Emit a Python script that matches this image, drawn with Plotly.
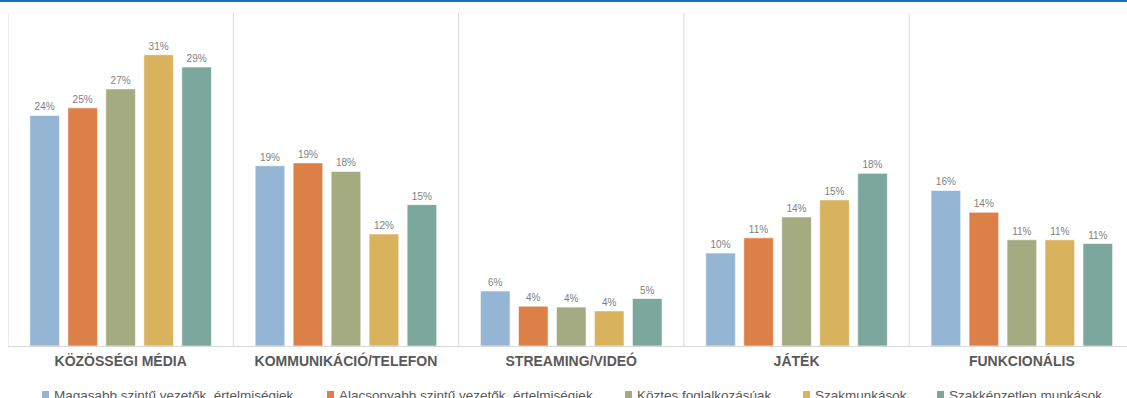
import plotly.graph_objects as go

# Survey shares (%) by activity type and occupational group
categories = ["KÖZÖSSÉGI MÉDIA", "KOMMUNIKÁCIÓ/TELEFON", "STREAMING/VIDEÓ", "JÁTÉK", "FUNKCIONÁLIS"]
series_names = [
    "Magasabb szintű vezetők, értelmiségiek",
    "Alacsonyabb szintű vezetők, értelmiségiek",
    "Köztes foglalkozásúak",
    "Szakmunkások",
    "Szakképzetlen munkások",
]
vezetok_felso = [24.3, 19.0, 5.8, 9.8, 16.4]
vezetok_also = [25.1, 19.3, 4.2, 11.4, 14.1]
koztes = [27.1, 18.4, 4.1, 13.6, 11.2]
szakmunkasok = [30.7, 11.8, 3.7, 15.4, 11.2]
szakkepzetlen = [29.4, 14.9, 5.0, 18.2, 10.8]

series_values = [vezetok_felso, vezetok_also, koztes, szakmunkasok, szakkepzetlen]
colors = ["#95B5D4", "#DD8047", "#A5AB81", "#D8B25C", "#7BA79D"]

W, H = 1127, 398
m_l, m_r, m_t, m_b = 8, 0, 13, 52
plot_w = W - m_l - m_r
plot_h = H - m_t - m_b


def px_x(px):
    return (px - m_l) / plot_w


def px_y(px):
    return (m_t + plot_h - px) / plot_h


FONT = "Liberation Sans, Arial"

fig = go.Figure()
for name, vals, col in zip(series_names, series_values, colors):
    fig.add_trace(go.Bar(
        x=categories, y=vals, name=name,
        marker=dict(color=col, line=dict(color="rgba(255,255,255,0.6)", width=1)),
        texttemplate="%{y:.0f}%", textposition="outside",
        textfont=dict(family=FONT, size=10, color="#7F7F7F"),
        cliponaxis=False, showlegend=False,
    ))

# vertical separators between activity groups
shapes = []
for i in range(len(categories)):
    shapes.append(dict(type="line", xref="x", yref="paper", x0=i - 0.5, x1=i - 0.5,
                       y0=0, y1=1, line=dict(color="#D9D9D9", width=1)))
# blue rule along the top edge
shapes.append(dict(type="line", xref="paper", yref="paper",
                   x0=px_x(0), x1=1.0, y0=px_y(1), y1=px_y(1),
                   line=dict(color="#1F6FC0", width=2)))

# legend row along the bottom: small square key + label
legend_key_left = [42, 327, 625, 803, 937]
annotations = []
for name, col, kx in zip(series_names, colors, legend_key_left):
    shapes.append(dict(type="rect", xref="paper", yref="paper",
                       x0=px_x(kx), x1=px_x(kx + 7), y0=px_y(398), y1=px_y(391),
                       fillcolor=col, line=dict(width=0)))
    annotations.append(dict(text=name, xref="paper", yref="paper",
                            x=px_x(kx + 10), y=px_y(395.5), xanchor="left", yanchor="middle",
                            showarrow=False, font=dict(family=FONT, size=13.5, color="#595959")))

unit_px = 225.3
x_max = -0.5 + plot_w / unit_px

fig.update_layout(
    width=W, height=H,
    margin=dict(l=m_l, r=m_r, t=m_t, b=m_b, autoexpand=False),
    plot_bgcolor="white", paper_bgcolor="white",
    barmode="group", bargap=0.157, bargroupgap=0.22,
    shapes=shapes, annotations=annotations,
    showlegend=False,
    xaxis=dict(range=[-0.5, x_max], showline=True, linecolor="#D9D9D9", linewidth=1,
               ticks="", showgrid=False, ticklabelstandoff=2,
               tickfont=dict(family=FONT, size=14, color="#595959", weight="bold")),
    yaxis=dict(range=[0, 35.1], visible=False, showgrid=False, zeroline=False),
    font=dict(family=FONT),
)

fig.write_html("out.html")
